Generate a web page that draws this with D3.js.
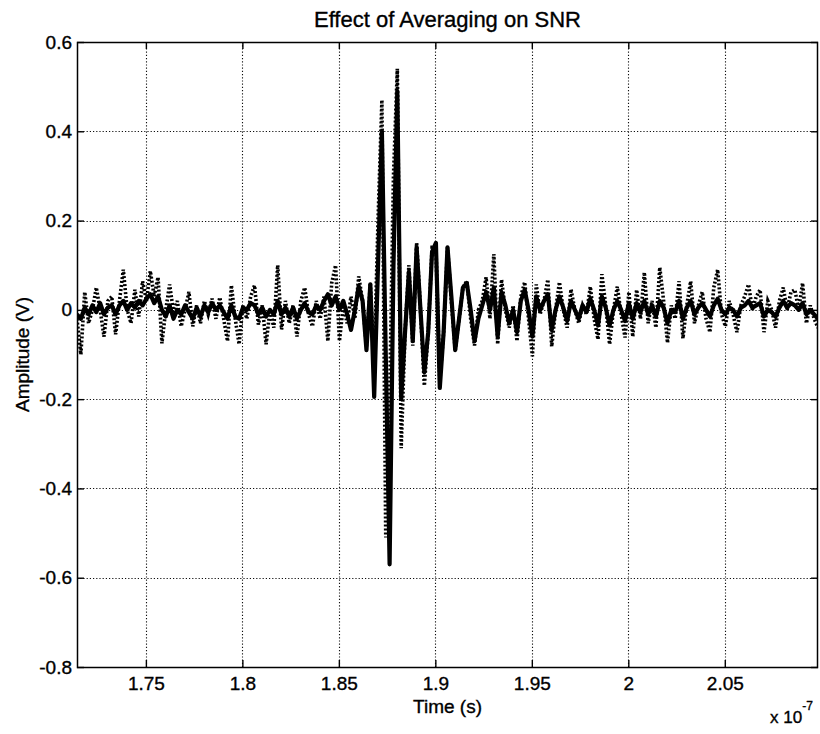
<!DOCTYPE html>
<html>
<head>
<meta charset="utf-8">
<script src="https://cdn.jsdelivr.net/npm/d3@7"></script>
<style>
  html, body { margin: 0; padding: 0; background: #fff; }
  svg { display: block; }
  text { font-family: "Liberation Sans", Arial, Helvetica, sans-serif; fill: #000; }
</style>
</head>
<body>
<svg id="chart" width="820" height="734"></svg>
<script>
// ---- Data (time in units of 1e-7 s, amplitude in V) ----
const title = "Effect of Averaging on SNR";
const xLabel = "Time (s)";
const yLabel = "Amplitude (V)";
const xDomain = [1.7143, 2.0983];
const yDomain = [-0.8, 0.6];
const sampleStart = 1.7143;   // first sample time (x 1e-7 s)
const sampleStep = 0.002;     // sampling interval (x 1e-7 s)

const xTickValues = [1.75, 1.8, 1.85, 1.9, 1.95, 2, 2.05];
const xTickLabels = ["1.75", "1.8", "1.85", "1.9", "1.95", "2", "2.05"];
const yTickValues = [-0.8, -0.6, -0.4, -0.2, 0, 0.2, 0.4, 0.6];
const yTickLabels = ["-0.8", "-0.6", "-0.4", "-0.2", "0", "0.2", "0.4", "0.6"];

// Single acquisition (dotted)
const singleShot = [
  -0.02, -0.10, 0.04, -0.03, 0.00, 0.05, 0.00, -0.06, 0.02, 0.03,
  -0.055, 0.02, 0.09, 0.00, -0.03, 0.045, -0.015, 0.064, 0.02, 0.087,
  0.03, 0.073, -0.075, 0.00, 0.057, -0.005, 0.02, -0.037, 0.00, 0.04,
  -0.037, 0.01, -0.03, 0.02, -0.01, 0.025, -0.02, 0.028, -0.02, -0.07,
  0.055, -0.02, -0.077, 0.01, -0.02, 0.03, 0.055, -0.033, 0.01, -0.077,
  0.00, -0.04, 0.10, -0.044, 0.02, -0.03, 0.01, -0.06, 0.02, 0.05,
  -0.01, -0.037, 0.02, -0.02, 0.03, -0.07, 0.06, 0.10, -0.07, 0.01,
  -0.03, 0.03, -0.02, 0.075, 0.02, -0.082, 0.06, -0.12, 0.20, 0.47,
  -0.51, -0.20, 0.30, 0.54, -0.31, -0.05, 0.10, -0.08, 0.15, 0.00,
  -0.17, -0.05, 0.14, 0.14, -0.16, -0.05, 0.14, 0.02, -0.09, -0.02,
  0.05, 0.065, -0.02, -0.08, 0.00, 0.02, 0.073, -0.02, 0.125, -0.077,
  0.068, 0.00, -0.04, 0.01, -0.07, 0.03, 0.062, -0.02, -0.104, 0.057,
  -0.01, 0.02, 0.068, -0.082, 0.00, 0.062, 0.00, -0.04, 0.046, 0.00,
  -0.03, 0.01, -0.01, 0.052, -0.02, -0.066, 0.08, 0.01, -0.077, 0.00,
  0.052, -0.01, -0.062, 0.04, -0.06, 0.045, -0.02, 0.084, -0.03, 0.02,
  -0.04, 0.095, 0.02, -0.074, 0.01, -0.02, 0.064, -0.064, 0.01, 0.064,
  -0.03, 0.01, 0.04, -0.02, -0.05, 0.05, 0.09, -0.01, -0.037, 0.02,
  -0.01, -0.05, 0.01, 0.03, 0.057, 0.00, 0.03, 0.045, -0.05, 0.02,
  0.00, -0.04, 0.02, 0.05, 0.00, 0.04, 0.045, 0.00, 0.06, -0.03,
  0.01, -0.02, -0.04
];

// Averaged signal (solid)
const averaged = [
  -0.01, -0.02, 0.005, -0.01, 0.01, -0.005, 0.015, -0.01, 0.005, 0.01,
  -0.01, 0.01, 0.02, 0.00, 0.015, 0.005, 0.02, 0.01, 0.025, 0.035,
  0.015, 0.03, 0.00, -0.015, 0.01, -0.02, 0.00, -0.01, 0.01, -0.005,
  -0.02, 0.005, -0.015, 0.01, -0.005, 0.015, 0.00, 0.01, -0.005, -0.02,
  0.01, -0.015, -0.02, 0.005, 0.00, 0.015, 0.01, -0.01, 0.005, -0.015,
  0.00, -0.01, 0.02, -0.01, 0.005, -0.015, 0.005, -0.02, 0.00, 0.015,
  -0.005, -0.01, 0.01, 0.00, 0.02, 0.035, 0.01, 0.03, 0.00, 0.02,
  -0.01, -0.045, 0.00, 0.053, 0.02, -0.09, 0.057, -0.195, 0.10, 0.40,
  -0.10, -0.57, 0.10, 0.49, -0.20, -0.05, 0.085, -0.07, 0.14, 0.00,
  -0.14, -0.05, 0.13, 0.15, -0.175, -0.05, 0.14, 0.03, -0.09, -0.02,
  0.05, 0.06, 0.00, -0.07, -0.02, 0.01, 0.04, 0.00, 0.05, -0.06,
  0.04, 0.01, -0.03, 0.00, -0.05, 0.02, 0.045, 0.00, -0.06, 0.03,
  0.00, 0.02, 0.035, -0.045, 0.00, 0.03, 0.005, -0.025, 0.02, 0.00,
  -0.02, 0.01, -0.005, 0.025, 0.00, -0.035, 0.03, 0.005, -0.035, 0.00,
  0.02, 0.00, -0.025, 0.015, -0.02, 0.015, -0.005, 0.02, -0.01, 0.01,
  -0.015, 0.02, 0.005, -0.03, 0.00, -0.005, 0.02, -0.02, 0.005, 0.02,
  -0.01, 0.005, 0.015, 0.00, -0.015, 0.01, 0.025, 0.00, -0.01, 0.005,
  0.00, -0.015, 0.005, 0.01, 0.02, 0.005, 0.01, 0.015, -0.015, 0.00,
  -0.005, -0.015, 0.005, 0.02, 0.005, 0.015, 0.01, 0.00, 0.015, -0.01,
  0.00, -0.01, -0.02
];

// ---- Layout ----
const margin = { left: 77, right: 2, top: 42, bottom: 67 };
const W = 820, H = 734;
const x0 = margin.left, x1 = W - margin.right;
const y0 = margin.top, y1 = H - margin.bottom;

const svg = d3.select("#chart");
const x = d3.scaleLinear().domain(xDomain).range([x0, x1]);
const y = d3.scaleLinear().domain(yDomain).range([y1, y0]);

// Grid
const grid = svg.append("g").attr("stroke", "#111").attr("stroke-width", 1.1)
  .attr("stroke-dasharray", "1.2,2");
grid.selectAll("line.vx").data(xTickValues).join("line")
  .attr("x1", d => Math.round(x(d)) + 0.5).attr("x2", d => Math.round(x(d)) + 0.5)
  .attr("y1", y0).attr("y2", y1);
grid.selectAll("line.hy").data(yTickValues.filter(v => v > yDomain[0] && v < yDomain[1])).join("line")
  .attr("y1", d => Math.round(y(d)) + 0.5).attr("y2", d => Math.round(y(d)) + 0.5)
  .attr("x1", x0).attr("x2", x1);

// Clip
svg.append("clipPath").attr("id", "clip").append("rect")
  .attr("x", x0).attr("y", y0).attr("width", x1 - x0).attr("height", y1 - y0);

const line = d3.line()
  .x((d, i) => x(sampleStart + i * sampleStep))
  .y(d => y(d));

const plot = svg.append("g").attr("clip-path", "url(#clip)");
plot.append("path").datum(singleShot)
  .attr("d", line).attr("fill", "none").attr("stroke", "#000")
  .attr("stroke-width", 3.6).attr("stroke-dasharray", "2,2")
  .attr("stroke-linejoin", "miter");
plot.append("path").datum(averaged)
  .attr("d", line).attr("fill", "none").attr("stroke", "#000")
  .attr("stroke-width", 4.2).attr("stroke-linejoin", "round");

// Axes (MATLAB style: inward ticks, full box)
const tickLen = 7;
const axB = d3.axisBottom(x).tickValues(xTickValues).tickSize(-tickLen).tickPadding(10)
  .tickFormat((d, i) => xTickLabels[i]);
const axT = d3.axisTop(x).tickValues(xTickValues).tickSize(-tickLen).tickFormat("");
const axL = d3.axisLeft(y).tickValues(yTickValues).tickSize(-tickLen).tickPadding(5)
  .tickFormat((d, i) => yTickLabels[i]);
const axR = d3.axisRight(y).tickValues(yTickValues).tickSize(-tickLen).tickFormat("");

function styleAxis(g) {
  g.select(".domain").remove();
  g.selectAll(".tick line").attr("stroke", "#000").attr("stroke-width", 1.4);
  g.selectAll(".tick text").attr("font-size", 19)
    .attr("font-family", "'Liberation Sans', Arial, sans-serif")
    .attr("fill", "#000").attr("stroke", "#000").attr("stroke-width", 0.35);
}
svg.append("g").attr("transform", `translate(0,${y1})`).call(axB).call(styleAxis);
svg.append("g").attr("transform", `translate(0,${y0})`).call(axT).call(styleAxis);
svg.append("g").attr("transform", `translate(${x0},0)`).call(axL).call(styleAxis);
svg.append("g").attr("transform", `translate(${x1},0)`).call(axR).call(styleAxis);

// Box
svg.append("rect").attr("x", x0 + 0.5).attr("y", y0 + 0.5)
  .attr("width", x1 - x0 - 1).attr("height", y1 - y0)
  .attr("fill", "none").attr("stroke", "#000").attr("stroke-width", 1.5);

// Texts
const heavy = sel => sel.attr("stroke", "#000").attr("stroke-width", 0.35);
svg.append("text").attr("x", (x0 + x1) / 2).attr("y", 27).attr("text-anchor", "middle")
  .attr("font-size", 22).call(heavy).text(title);
svg.append("text").attr("x", (x0 + x1) / 2).attr("y", 713).attr("text-anchor", "middle")
  .attr("font-size", 19).call(heavy).text(xLabel);
svg.append("text").attr("transform", `translate(29,${(y0 + y1) / 2}) rotate(-90)`)
  .attr("text-anchor", "middle").attr("font-size", 19).call(heavy).text(yLabel);
const exp = svg.append("text").attr("x", 770).attr("y", 723).attr("font-size", 17).call(heavy);
exp.append("tspan").text("x 10");
exp.append("tspan").attr("dy", -13).attr("font-size", 12).text("-7");
</script>
</body>
</html>
